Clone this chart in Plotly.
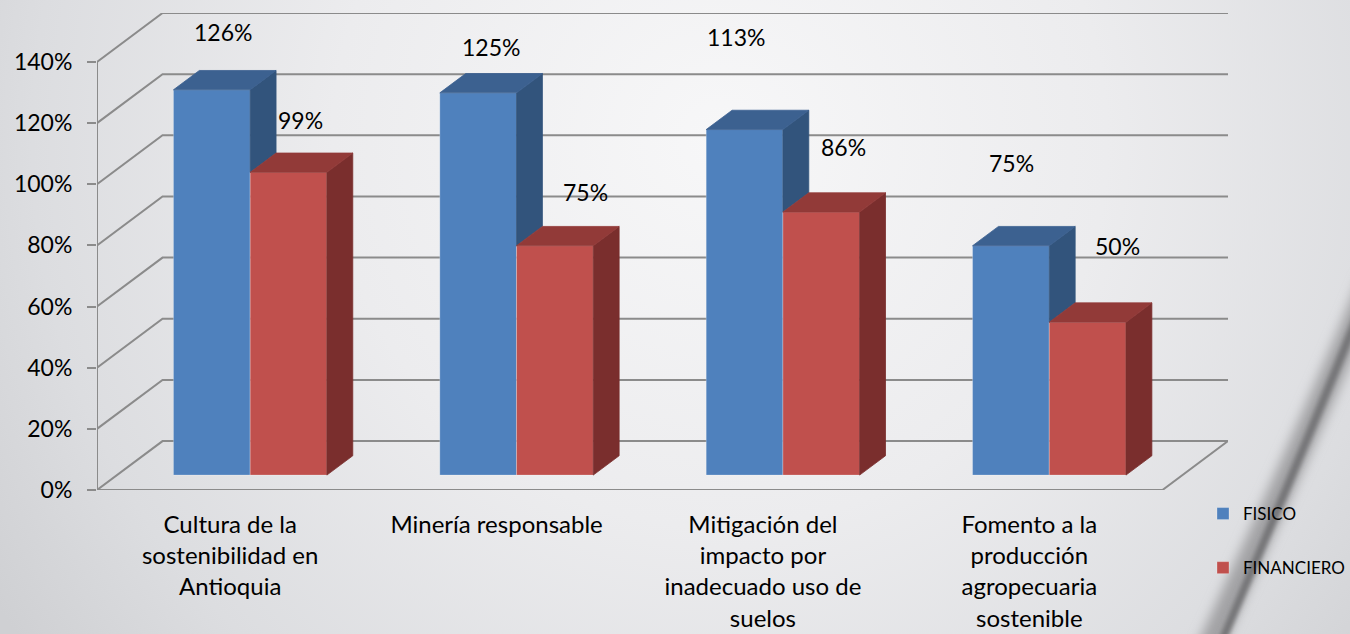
import base64
import plotly.graph_objects as go

# ---------------- data ----------------
CATEGORIES = [
    "Cultura de la<br>sostenibilidad en<br>Antioquia",
    "Minería responsable",
    "Mitigación del<br>impacto por<br>inadecuado uso de<br>suelos",
    "Fomento a la<br>producción<br>agropecuaria<br>sostenible",
]
SERIES_NAMES = ["FISICO", "FINANCIERO"]
FISICO = [126, 125, 113, 75]
FINANCIERO = [99, 75, 86, 50]
Y_TICKS = [0, 20, 40, 60, 80, 100, 120, 140]
Y_TICK_LABELS = ["0%", "20%", "40%", "60%", "80%", "100%", "120%", "140%"]

# ---------------- style / geometry ----------------
W, H = 1350, 634
ML, MR, MT, MB = 97, 122, 13, 144
DX, DY = 0.246, 16.0          # full depth of the 3-D box (x in category units, y in %)
F0, F1 = 0.305, 0.70          # depth slice occupied by the bars
BAR_W = 0.288
FRONT = ["#4f81bd", "#c0504d"]
TOP = ["#3c6190", "#923a38"]
SIDE = ["#32547c", "#7a2e2d"]
GRID = "#8b8b8b"
FONT = "Lato"
# pixel offsets of the value labels (Excel placed them by hand)
LABEL_SHIFT = [
    [(11, 58), (13, 46), (-9, 93), (1, 83)],
    [(12, 52), (31, 54), (22, 65), (30, 76)],
]

series = [FISICO, FINANCIERO]
n = len(CATEGORIES)
centers = list(range(n))
x_lo = -0.5
x_front_hi = n - 0.5
x_hi = x_front_hi + DX
y_hi = Y_TICKS[-1] + DY

fig = go.Figure()

# side and top faces of the 3-D bars (scatter polygons, computed from the values)
for s, vals in enumerate(series):
    for i, c in enumerate(centers):
        v = vals[i]
        xl = c - BAR_W + s * BAR_W
        xr = xl + BAR_W
        # visible part of the right side (blue side is partly hidden by the red bar)
        b = min(v, series[s + 1][i]) if s + 1 < len(series) else 0
        if v > b:
            sx = [xr + F0 * DX, xr + F0 * DX, xr + F1 * DX, xr + F1 * DX, xr + F0 * DX]
            sy = [b + F0 * DY, v + F0 * DY, v + F1 * DY, b + F1 * DY, b + F0 * DY]
            fig.add_trace(go.Scatter(x=sx, y=sy, mode="lines", fill="toself",
                                     fillcolor=SIDE[s], line=dict(width=0.8, color=SIDE[s]),
                                     hoverinfo="skip", showlegend=False))
        tx = [xl + F0 * DX, xr + F0 * DX, xr + F1 * DX, xl + F1 * DX, xl + F0 * DX]
        ty = [v + F0 * DY, v + F0 * DY, v + F1 * DY, v + F1 * DY, v + F0 * DY]
        fig.add_trace(go.Scatter(x=tx, y=ty, mode="lines", fill="toself",
                                 fillcolor=TOP[s], line=dict(width=0.8, color=TOP[s]),
                                 hoverinfo="skip", showlegend=False))

# front faces: real bars
for s, vals in enumerate(series):
    xs = [c - BAR_W / 2 + s * BAR_W + F0 * DX for c in centers]
    fig.add_trace(go.Bar(
        x=xs, y=vals, base=F0 * DY, width=BAR_W, name=SERIES_NAMES[s],
        legendgroup=SERIES_NAMES[s],
        marker=dict(color=FRONT[s], line=dict(width=1, color="rgba(255,255,255,0.25)")),
        hovertemplate="%{y}%<extra>" + SERIES_NAMES[s] + "</extra>",
    ))

# value labels
annotations = []
for s, vals in enumerate(series):
    for i, c in enumerate(centers):
        xs = c - BAR_W / 2 + s * BAR_W + F0 * DX
        dx, dy = LABEL_SHIFT[s][i]
        annotations.append(dict(
            x=xs, y=vals[i] + F0 * DY, xref="x", yref="y", text=f"{vals[i]}%",
            showarrow=False, xanchor="center", yanchor="middle",
            xshift=dx, yshift=dy, font=dict(family=FONT, size=23, color="#000000"),
        ))

# 3-D walls: gridlines on side + back wall, floor edges, axis line, category ticks
shapes = []
for t in Y_TICKS:
    shapes.append(dict(
        type="path", xref="x", yref="y", layer="below",
        path=f"M{x_lo},{t} L{x_lo + DX},{t + DY} L{x_hi},{t + DY}",
        line=dict(color=GRID, width=2),
    ))
shapes.append(dict(type="path", xref="x", yref="y", layer="below",
                   path=f"M{x_lo},0 L{x_front_hi},0 L{x_hi},{DY}",
                   line=dict(color=GRID, width=2)))
shapes.append(dict(type="line", xref="x", yref="y", layer="below",
                   x0=x_lo, x1=x_lo, y0=0, y1=Y_TICKS[-1],
                   line=dict(color=GRID, width=2)))
for k in range(n + 1):
    bx = x_lo + k
    shapes.append(dict(type="line", xref="x", yref="y", layer="below",
                       ysizemode="pixel", yanchor=0, x0=bx, x1=bx, y0=0, y1=-7,
                       line=dict(color=GRID, width=2)))

# slide background (gradient + swoosh) as an inline SVG image
svg = f"""<svg xmlns='http://www.w3.org/2000/svg' width='{W}' height='{H}' viewBox='0 0 {W} {H}'>
<defs>
<radialGradient id='g' cx='720' cy='140' r='860' gradientUnits='userSpaceOnUse'>
<stop offset='0' stop-color='#f7f7f8'/>
<stop offset='0.45' stop-color='#ececee'/>
<stop offset='0.8' stop-color='#dcdde0'/>
<stop offset='1' stop-color='#cfd0d3'/>
</radialGradient>
<filter id='b1' x='-50%' y='-20%' width='200%' height='140%'><feGaussianBlur stdDeviation='6'/></filter>
<filter id='b2' x='-50%' y='-20%' width='200%' height='140%'><feGaussianBlur stdDeviation='2'/></filter>
</defs>
<rect width='{W}' height='{H}' fill='url(#g)'/>
<path d='M1372,280 Q1330,385 1208,650' stroke='#a2a2a4' stroke-width='24' fill='none' filter='url(#b1)'/>
<path d='M1368,290 Q1328,392 1218,650' stroke='#767678' stroke-width='8' fill='none' filter='url(#b2)'/>
</svg>"""
src = "data:image/svg+xml;base64," + base64.b64encode(svg.encode("utf-8")).decode("ascii")
pw = W - ML - MR
ph = H - MT - MB
images = [dict(source=src, xref="paper", yref="paper", x=-ML / pw, y=1 + MT / ph,
               sizex=W / pw, sizey=H / ph, xanchor="left", yanchor="top",
               sizing="stretch", layer="below")]

fig.update_layout(
    width=W, height=H,
    margin=dict(l=ML, r=MR, t=MT, b=MB, pad=0, autoexpand=False),
    paper_bgcolor="#e6e6e8",
    plot_bgcolor="rgba(0,0,0,0)",
    barmode="overlay",
    font=dict(family=FONT, color="#000000"),
    shapes=shapes,
    annotations=annotations,
    images=images,
    xaxis=dict(range=[x_lo, x_hi], tickvals=centers, ticktext=CATEGORIES,
               showgrid=False, zeroline=False, showline=False, ticks="", ticklen=0,
               ticklabelstandoff=18, tickfont=dict(family=FONT, size=24, color="#000000"),
               automargin=False, fixedrange=True),
    yaxis=dict(range=[0, y_hi], tickvals=Y_TICKS, ticktext=Y_TICK_LABELS,
               showgrid=False, zeroline=False, showline=False,
               ticks="outside", ticklen=9, tickwidth=2, tickcolor=GRID,
               ticklabelstandoff=10, tickfont=dict(family=FONT, size=23, color="#000000"),
               automargin=False, fixedrange=True),
    legend=dict(x=1203 / W, xref="container", y=1 - 496 / H, yref="container",
                xanchor="left", yanchor="top", bgcolor="rgba(0,0,0,0)",
                font=dict(family=FONT, size=17, color="#000000"),
                tracegroupgap=29, itemclick=False, itemdoubleclick=False),
    showlegend=True,
)

fig.write_html(
    "out.html",
    config={"displayModeBar": False},
    post_script="document.body.style.margin='0';document.body.style.padding='0';"
                "document.documentElement.style.overflow='hidden';",
)
